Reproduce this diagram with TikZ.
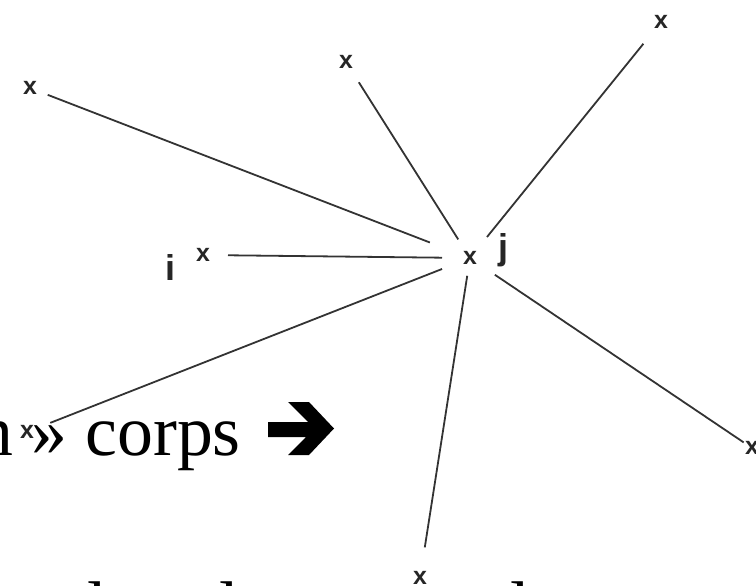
\documentclass[tikz,border=0pt]{standalone}
\usepackage{fontspec}
\setmainfont{Liberation Serif}
\setsansfont{Liberation Sans}

\begin{document}
\begin{tikzpicture}[x=1bp,y=-1bp,
  xmark/.style={inner sep=0pt, font=\sffamily\bfseries\fontsize{25}{25}\selectfont, text=black!85},
  ray/.style={draw=black!80, line width=1.8bp},
  lbl/.style={inner sep=0pt, font=\sffamily\bfseries\fontsize{36}{36}\selectfont, text=black!85},
  big/.style={inner sep=0pt, font=\fontsize{72}{80}\selectfont}
]
\useasboundingbox (0,0) rectangle (756,586);
\clip (0,0) rectangle (756,586);

% points of the star
\node[xmark] (c)  at (470,258) {x};
\node[xmark] (tl) at (30,88)   {x};
\node[xmark] (t)  at (346,62)  {x};
\node[xmark] (tr) at (661,22)  {x};
\node[xmark] (i)  at (203,255) {x};
\node[xmark] (ll) at (27,432)  {x};
\node[xmark] (b)  at (420,578) {x};
\node[xmark] (lr) at (752,448) {x};

% labels
\node[lbl] (li) at (170,268) {i};
\node[lbl] (lj) at (503,250) {j};

% rays from the centre
\draw[ray, shorten <=43bp, shorten >=19bp] (c.center) -- (tl.center);
\draw[ray, shorten <=22bp, shorten >=24bp] (c.center) -- (t.center);
\draw[ray, shorten <=27bp, shorten >=28bp] (c.center) -- (tr.center);
\draw[ray, shorten <=28bp, shorten >=25bp] (c.center) -- (i.center);
\draw[ray, shorten <=30bp, shorten >=25bp] (c.center) -- (ll.center);
\draw[ray, shorten <=18bp, shorten >=31bp] (c.center) -- (b.center);
\draw[ray, shorten <=30bp, shorten >=10bp] (c.center) -- (lr.center);

% text line
\node[big, anchor=base east] (corps) at (241,455) {n » corps};
% heavy arrow after the word
\fill[black] (268,422) -- (308,422) -- (288,402) -- (309,402) -- (334,428.5)
  -- (309,455) -- (288,455) -- (306,437) -- (268,437) -- cycle;

% next text line, only its ascenders reach into view
\node[big, anchor=base] (a1) at (97,631) {l};
\node[big, anchor=base] (a2) at (229,631) {l};
\node[big, anchor=base] (a3) at (520,631) {l};
\end{tikzpicture}
\end{document}
